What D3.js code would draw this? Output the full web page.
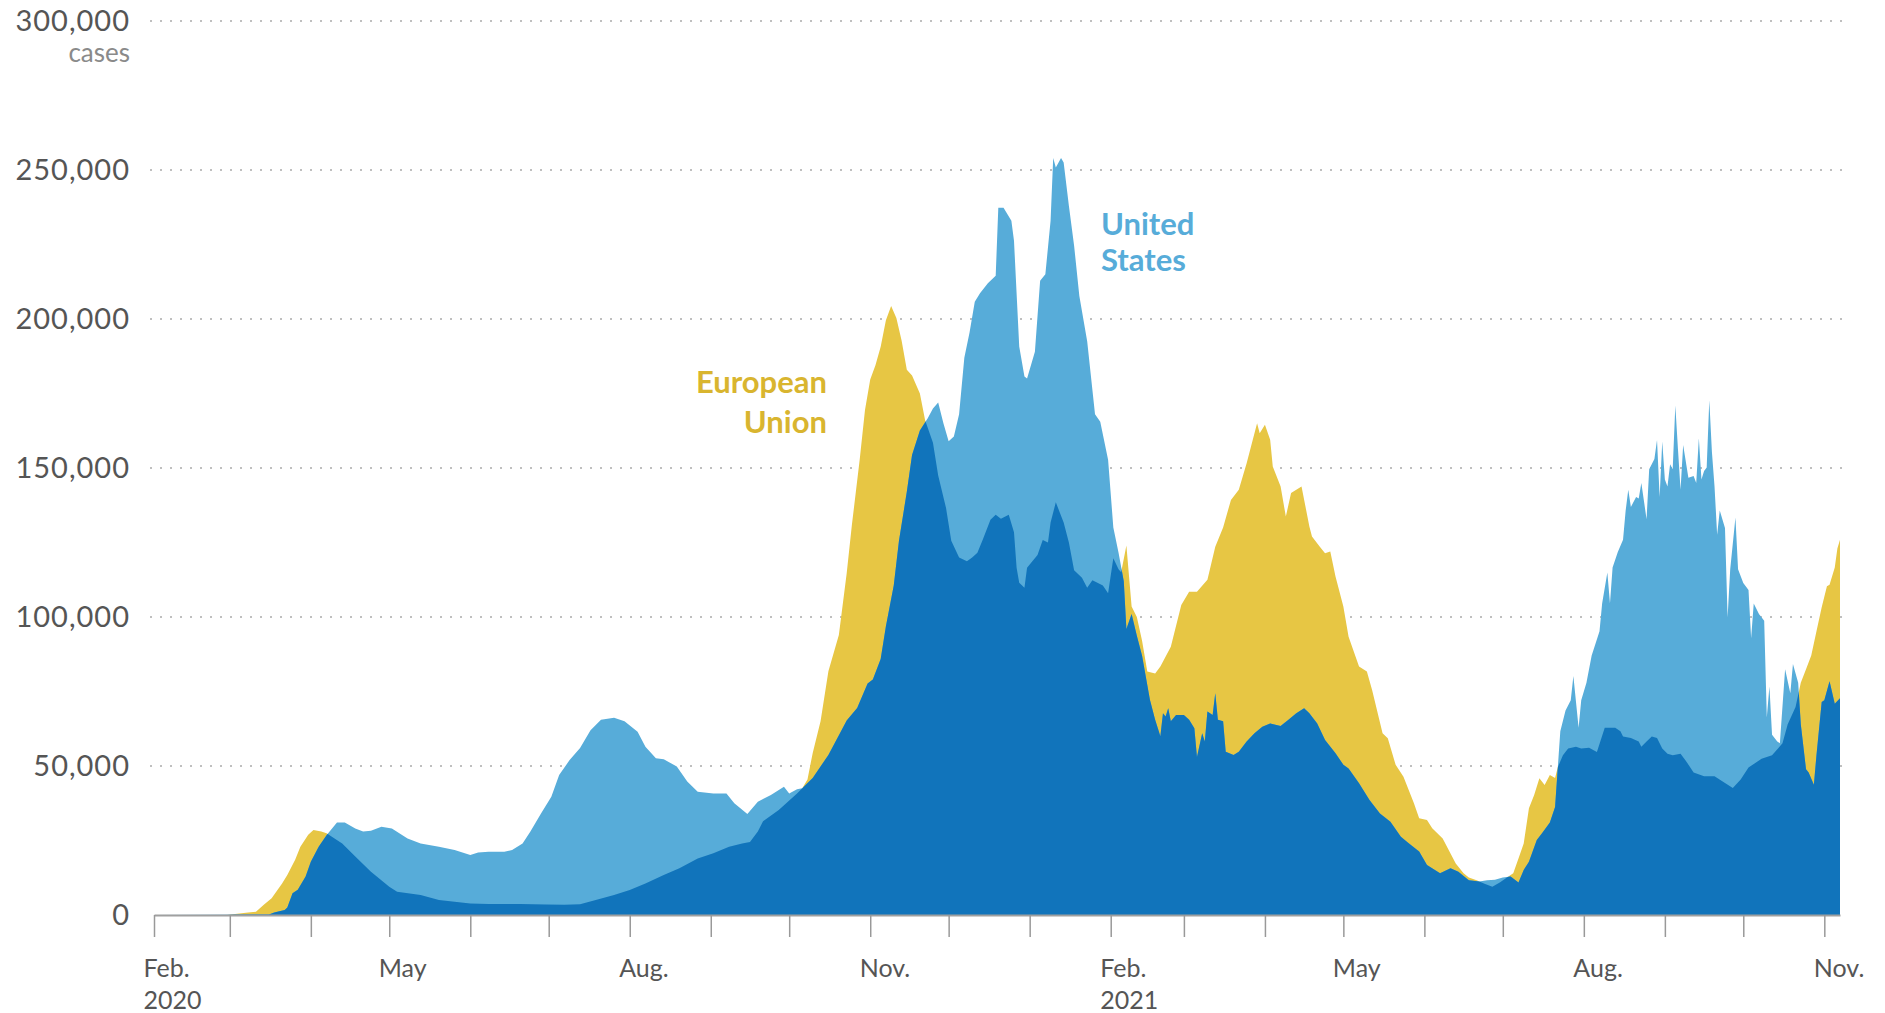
<!DOCTYPE html>
<html>
<head>
<meta charset="utf-8">
<script src="https://cdn.jsdelivr.net/npm/d3@7"></script>
<style>
  body { margin: 0; background: #fff; }
  svg text { font-family: Lato, "Open Sans", sans-serif; }
</style>
</head>
<body>
<div id="chart"></div>
<script>
// daily new cases (7-day average)
const euCases = [
  ["2020-02-01", 0], ["2020-02-29", 0], ["2020-03-03", 300], ["2020-03-08", 800], ["2020-03-11", 1100],
  ["2020-03-14", 3400], ["2020-03-17", 5600], ["2020-03-21", 10600], ["2020-03-23", 13400], ["2020-03-26", 18500],
  ["2020-03-28", 22900], ["2020-03-31", 26900], ["2020-04-02", 28500], ["2020-04-05", 28000], ["2020-04-07", 27400],
  ["2020-04-13", 24000], ["2020-04-18", 19600], ["2020-04-24", 14500], ["2020-05-01", 9500], ["2020-05-04", 7800],
  ["2020-05-13", 6700], ["2020-05-20", 5000], ["2020-06-01", 3900], ["2020-06-08", 3700], ["2020-06-20", 3700],
  ["2020-06-30", 3500], ["2020-07-07", 3400], ["2020-07-13", 3600], ["2020-07-19", 5000], ["2020-07-26", 6700],
  ["2020-08-01", 8400], ["2020-08-07", 10600], ["2020-08-14", 13400], ["2020-08-20", 15700], ["2020-08-27", 19000],
  ["2020-09-02", 20700], ["2020-09-08", 22900], ["2020-09-13", 24000], ["2020-09-16", 24500], ["2020-09-19", 28000],
  ["2020-09-21", 31500], ["2020-09-27", 35200], ["2020-10-04", 40800], ["2020-10-06", 42500], ["2020-10-08", 45500],
  ["2020-10-10", 54400], ["2020-10-13", 65000], ["2020-10-16", 81800], ["2020-10-20", 94000], ["2020-10-23", 114700],
  ["2020-10-25", 131000], ["2020-10-28", 153000], ["2020-10-30", 169500], ["2020-11-01", 179700], ["2020-11-03", 184500],
  ["2020-11-05", 190700], ["2020-11-07", 199600], ["2020-11-09", 204400], ["2020-11-11", 200300], ["2020-11-13", 192800],
  ["2020-11-15", 183000], ["2020-11-17", 181000], ["2020-11-20", 175000], ["2020-11-22", 166000], ["2020-11-25", 158500],
  ["2020-11-27", 147500], ["2020-11-30", 136600], ["2020-12-02", 125600], ["2020-12-05", 120000], ["2020-12-08", 118700],
  ["2020-12-10", 120000], ["2020-12-12", 121600], ["2020-12-14", 125800], ["2020-12-17", 132600], ["2020-12-19", 134300],
  ["2020-12-21", 133000], ["2020-12-24", 134300], ["2020-12-26", 128400], ["2020-12-27", 116500], ["2020-12-28", 111500],
  ["2020-12-30", 109800], ["2020-12-31", 116500], ["2021-01-04", 120800], ["2021-01-06", 125800], ["2021-01-08", 125000],
  ["2021-01-09", 131700], ["2021-01-11", 138500], ["2021-01-14", 131700], ["2021-01-16", 125000], ["2021-01-18", 115700],
  ["2021-01-21", 113200], ["2021-01-23", 109800], ["2021-01-25", 112300], ["2021-01-29", 110600], ["2021-01-31", 108000],
  ["2021-02-02", 119700], ["2021-02-04", 116000], ["2021-02-05", 115000], ["2021-02-07", 124000], ["2021-02-09", 103500],
  ["2021-02-11", 100000], ["2021-02-13", 92000], ["2021-02-15", 81700], ["2021-02-18", 81000], ["2021-02-20", 83400],
  ["2021-02-24", 90000], ["2021-02-28", 104000], ["2021-03-03", 108500], ["2021-03-06", 108500], ["2021-03-10", 112500],
  ["2021-03-13", 123600], ["2021-03-16", 130000], ["2021-03-19", 139300], ["2021-03-22", 142700], ["2021-03-25", 151600],
  ["2021-03-29", 165000], ["2021-03-30", 161700], ["2021-04-01", 164500], ["2021-04-03", 159500], ["2021-04-04", 150500],
  ["2021-04-07", 143800], ["2021-04-09", 133700], ["2021-04-11", 141600], ["2021-04-15", 143800], ["2021-04-18", 130400],
  ["2021-04-19", 127000], ["2021-04-22", 123600], ["2021-04-24", 121400], ["2021-04-26", 122000], ["2021-04-28", 113600],
  ["2021-05-01", 103500], ["2021-05-03", 93400], ["2021-05-07", 83400], ["2021-05-10", 81700], ["2021-05-12", 75500],
  ["2021-05-16", 61000], ["2021-05-18", 59300], ["2021-05-21", 50400], ["2021-05-24", 46400], ["2021-05-28", 37500],
  ["2021-05-30", 32500], ["2021-06-02", 31900], ["2021-06-04", 29100], ["2021-06-08", 25700], ["2021-06-13", 17300],
  ["2021-06-16", 14000], ["2021-06-18", 12600], ["2021-06-21", 11700], ["2021-06-24", 10500], ["2021-06-27", 9500],
  ["2021-06-30", 11000], ["2021-07-03", 12800], ["2021-07-05", 14000], ["2021-07-07", 19000], ["2021-07-09", 24000],
  ["2021-07-11", 35800], ["2021-07-13", 40300], ["2021-07-15", 45900], ["2021-07-17", 43600], ["2021-07-19", 47000],
  ["2021-07-21", 46000], ["2021-07-22", 49500], ["2021-07-24", 53600], ["2021-07-26", 55900], ["2021-07-29", 56500],
  ["2021-07-31", 55900], ["2021-08-03", 56100], ["2021-08-06", 54700], ["2021-08-09", 62800], ["2021-08-13", 62800],
  ["2021-08-15", 61700], ["2021-08-16", 59900], ["2021-08-19", 59400], ["2021-08-22", 58200], ["2021-08-23", 56500],
  ["2021-08-25", 58200], ["2021-08-27", 59900], ["2021-08-29", 59400], ["2021-08-31", 55900], ["2021-09-02", 54100],
  ["2021-09-04", 53600], ["2021-09-07", 54100], ["2021-09-09", 51800], ["2021-09-12", 47800], ["2021-09-16", 46600],
  ["2021-09-20", 46600], ["2021-09-24", 44300], ["2021-09-27", 42600], ["2021-09-30", 45500], ["2021-10-03", 49500],
  ["2021-10-08", 52400], ["2021-10-12", 53600], ["2021-10-16", 57600], ["2021-10-18", 64000], ["2021-10-21", 69800],
  ["2021-10-23", 77900], ["2021-10-25", 82500], ["2021-10-27", 87100], ["2021-10-29", 95200], ["2021-10-31", 103300],
  ["2021-11-02", 110300], ["2021-11-03", 110800], ["2021-11-05", 116600], ["2021-11-06", 123000], ["2021-11-07", 125900]
];

const usCases = [
  ["2020-02-01", 0], ["2020-03-16", 200], ["2020-03-18", 800], ["2020-03-22", 1700], ["2020-03-23", 2500],
  ["2020-03-25", 7300], ["2020-03-27", 8500], ["2020-03-30", 12900], ["2020-04-01", 17900], ["2020-04-04", 22900],
  ["2020-04-07", 26800], ["2020-04-11", 31000], ["2020-04-14", 31000], ["2020-04-18", 29000], ["2020-04-21", 28000],
  ["2020-04-24", 28300], ["2020-04-28", 29600], ["2020-05-02", 29000], ["2020-05-08", 25700], ["2020-05-13", 24000],
  ["2020-05-20", 22900], ["2020-05-26", 21800], ["2020-06-01", 20100], ["2020-06-04", 21000], ["2020-06-08", 21200],
  ["2020-06-14", 21200], ["2020-06-17", 21800], ["2020-06-21", 24000], ["2020-06-24", 28000], ["2020-06-28", 34000],
  ["2020-07-02", 39700], ["2020-07-05", 47000], ["2020-07-09", 52000], ["2020-07-13", 56000], ["2020-07-17", 62000],
  ["2020-07-21", 65500], ["2020-07-26", 66200], ["2020-07-30", 65000], ["2020-08-04", 61500], ["2020-08-07", 56500],
  ["2020-08-11", 52600], ["2020-08-14", 52300], ["2020-08-19", 49800], ["2020-08-23", 44800], ["2020-08-27", 41400],
  ["2020-09-02", 40800], ["2020-09-07", 40800], ["2020-09-10", 37500], ["2020-09-15", 33900], ["2020-09-19", 38000],
  ["2020-09-24", 40300], ["2020-09-29", 43000], ["2020-10-01", 40800], ["2020-10-04", 42200], ["2020-10-06", 42500],
  ["2020-10-10", 46000], ["2020-10-16", 53700], ["2020-10-23", 65300], ["2020-10-27", 69500], ["2020-10-31", 77700],
  ["2020-11-02", 79000], ["2020-11-05", 85900], ["2020-11-07", 96900], ["2020-11-10", 110600], ["2020-11-12", 125600],
  ["2020-11-15", 142000], ["2020-11-17", 154400], ["2020-11-20", 162600], ["2020-11-23", 166700], ["2020-11-25", 170000],
  ["2020-11-27", 172000], ["2020-11-29", 165000], ["2020-12-01", 159000], ["2020-12-03", 160600], ["2020-12-05", 168000],
  ["2020-12-07", 187000], ["2020-12-09", 195500], ["2020-12-11", 205800], ["2020-12-13", 208600], ["2020-12-16", 212000],
  ["2020-12-19", 214500], ["2020-12-20", 237300], ["2020-12-22", 237300], ["2020-12-25", 233000], ["2020-12-26", 226300],
  ["2020-12-28", 190800], ["2020-12-30", 180700], ["2020-12-31", 180000], ["2021-01-03", 189000], ["2021-01-05", 212800],
  ["2021-01-07", 215000], ["2021-01-09", 233000], ["2021-01-10", 254000], ["2021-01-11", 250800], ["2021-01-13", 254000],
  ["2021-01-14", 252500], ["2021-01-16", 238000], ["2021-01-18", 224600], ["2021-01-20", 207700], ["2021-01-23", 192500],
  ["2021-01-26", 168000], ["2021-01-28", 165500], ["2021-01-31", 152800], ["2021-02-02", 130000], ["2021-02-04", 121600],
  ["2021-02-06", 112000], ["2021-02-07", 96000], ["2021-02-09", 101000], ["2021-02-11", 93700], ["2021-02-13", 87000],
  ["2021-02-16", 72200], ["2021-02-18", 65500], ["2021-02-20", 60000], ["2021-02-21", 67700], ["2021-02-22", 66600],
  ["2021-02-23", 69400], ["2021-02-24", 65000], ["2021-02-26", 67100], ["2021-03-01", 67100], ["2021-03-03", 65500],
  ["2021-03-05", 62700], ["2021-03-06", 53000], ["2021-03-08", 61000], ["2021-03-09", 58200], ["2021-03-10", 68300],
  ["2021-03-12", 67100], ["2021-03-13", 74400], ["2021-03-14", 65500], ["2021-03-16", 65000], ["2021-03-17", 54800],
  ["2021-03-20", 53700], ["2021-03-22", 54800], ["2021-03-25", 58200], ["2021-03-28", 61000], ["2021-03-31", 63200],
  ["2021-04-03", 64300], ["2021-04-07", 63400], ["2021-04-10", 65500], ["2021-04-13", 67700], ["2021-04-16", 69400],
  ["2021-04-18", 67700], ["2021-04-21", 64300], ["2021-04-24", 58700], ["2021-04-28", 54300], ["2021-05-01", 50400],
  ["2021-05-03", 49200], ["2021-05-07", 44200], ["2021-05-11", 38600], ["2021-05-15", 34100], ["2021-05-19", 31300],
  ["2021-05-23", 26300], ["2021-05-26", 24100], ["2021-05-30", 21300], ["2021-06-02", 16800], ["2021-06-07", 14000],
  ["2021-06-11", 15700], ["2021-06-14", 14500], ["2021-06-18", 11700], ["2021-06-22", 11200], ["2021-06-25", 11700],
  ["2021-06-28", 11800], ["2021-07-01", 12600], ["2021-07-04", 12900], ["2021-07-07", 10900], ["2021-07-09", 15100],
  ["2021-07-11", 17900], ["2021-07-14", 25200], ["2021-07-16", 27400], ["2021-07-19", 31000], ["2021-07-21", 36200],
  ["2021-07-23", 61700], ["2021-07-25", 68600], ["2021-07-27", 72100], ["2021-07-28", 80200], ["2021-07-30", 62800],
  ["2021-07-31", 72100], ["2021-08-02", 77900], ["2021-08-04", 87100], ["2021-08-07", 95200], ["2021-08-08", 104500],
  ["2021-08-10", 114900], ["2021-08-11", 104500], ["2021-08-12", 116600], ["2021-08-14", 121800], ["2021-08-16", 125900],
  ["2021-08-17", 135700], ["2021-08-18", 142700], ["2021-08-19", 136900], ["2021-08-21", 140300], ["2021-08-22", 139800],
  ["2021-08-23", 145000], ["2021-08-25", 132800], ["2021-08-26", 149600], ["2021-08-28", 153000], ["2021-08-29", 159400],
  ["2021-08-30", 140300], ["2021-08-31", 158900], ["2021-09-01", 146100], ["2021-09-02", 143800], ["2021-09-03", 151300],
  ["2021-09-04", 149600], ["2021-09-05", 171000], ["2021-09-06", 156500], ["2021-09-07", 142700], ["2021-09-08", 157700],
  ["2021-09-10", 146700], ["2021-09-12", 147300], ["2021-09-13", 145000], ["2021-09-14", 160000], ["2021-09-15", 146100],
  ["2021-09-16", 149000], ["2021-09-17", 150200], ["2021-09-18", 172700], ["2021-09-19", 155400], ["2021-09-20", 143800],
  ["2021-09-21", 127600], ["2021-09-22", 135700], ["2021-09-24", 129900], ["2021-09-25", 99800], ["2021-09-26", 116000],
  ["2021-09-28", 133400], ["2021-09-29", 116000], ["2021-10-01", 111400], ["2021-10-03", 109100], ["2021-10-04", 92900],
  ["2021-10-05", 104500], ["2021-10-07", 101000], ["2021-10-09", 98700], ["2021-10-10", 66300], ["2021-10-11", 76700],
  ["2021-10-12", 60500], ["2021-10-14", 58200], ["2021-10-15", 57600], ["2021-10-17", 82500], ["2021-10-19", 74400],
  ["2021-10-20", 84200], ["2021-10-22", 77900], ["2021-10-23", 64000], ["2021-10-25", 48900], ["2021-10-26", 47800],
  ["2021-10-28", 43700], ["2021-10-29", 53600], ["2021-10-31", 71500], ["2021-11-01", 72100], ["2021-11-03", 78400],
  ["2021-11-05", 70900], ["2021-11-07", 72700]
];

const yTickValues = [0, 50000, 100000, 150000, 200000, 250000, 300000];
const monthLabels = { 1: "Feb.", 4: "May", 7: "Aug.", 10: "Nov." };
const seriesLabels = [
  { lines: ["European", "Union"], color: "#D9B52F" },
  { lines: ["United", "States"], color: "#57ACD9" }
];

const W = 1885, H = 1013;
const parse = d3.timeParse("%Y-%m-%d");
const eu = euCases.map(d => ({ date: parse(d[0]), value: d[1] }));
const us = usCases.map(d => ({ date: parse(d[0]), value: d[1] }));

const svg = d3.select("#chart")
  .append("svg")
  .attr("width", W)
  .attr("height", H);

const x = d3.scaleTime()
  .domain([parse("2020-02-01"), parse("2021-11-07")])
  .range([154, 1840]);

const y = d3.scaleLinear()
  .domain([0, 300000])
  .range([915, 21]);

// dotted grid
svg.append("g")
  .selectAll("line")
  .data(yTickValues.filter(v => v > 0))
  .enter()
  .append("line")
  .attr("x1", 150)
  .attr("x2", 1842)
  .attr("y1", d => y(d))
  .attr("y2", d => y(d))
  .attr("stroke", "#aaa")
  .attr("stroke-width", 1.5)
  .attr("stroke-dasharray", "2,8");

const area = d3.area()
  .x(d => x(d.date))
  .y0(y(0))
  .y1(d => y(d.value));

svg.append("clipPath")
  .attr("id", "usClip")
  .append("path")
  .attr("d", area(us));

svg.append("path").attr("d", area(eu)).attr("fill", "#E7C644");
svg.append("path").attr("d", area(us)).attr("fill", "#57ACD9");
// overlap of both = dark blue
svg.append("path")
  .attr("d", area(eu))
  .attr("fill", "#1174BB")
  .attr("clip-path", "url(#usClip)");

// x axis
const xAxis = svg.append("g")
  .attr("transform", `translate(0, ${y(0)})`)
  .call(d3.axisBottom(x)
    .ticks(d3.timeMonth.every(1))
    .tickSize(22)
    .tickSizeOuter(0)
    .tickFormat(d => monthLabels[d.getMonth()] || ""));

xAxis.select(".domain").attr("stroke", "#a0a0a0").attr("stroke-width", 2);
xAxis.selectAll(".tick line").attr("stroke", "#999").attr("stroke-width", 1.5);
xAxis.selectAll(".tick text")
  .attr("y", 62)
  .attr("dy", null)
  .attr("dx", -11)
  .style("text-anchor", "start")
  .style("font-size", "25px")
  .attr("fill", "#555")
  .each(function (d) {
    if (d.getMonth() === 1) {
      d3.select(this).append("tspan")
        .attr("x", 0)
        .attr("dx", -11)
        .attr("dy", 32)
        .text(d.getFullYear());
    }
  });

// y axis labels
const yAxis = svg.append("g")
  .attr("transform", "translate(130, 0)")
  .call(d3.axisLeft(y)
    .tickValues(yTickValues)
    .tickSize(0)
    .tickPadding(0)
    .tickFormat(d3.format(",")));

yAxis.select(".domain").remove();
yAxis.selectAll(".tick text")
  .style("font-size", "29px")
  .style("letter-spacing", "1px")
  .attr("fill", "#555");

svg.append("text")
  .attr("x", 130)
  .attr("y", 62)
  .style("text-anchor", "end")
  .style("font-size", "26px")
  .attr("fill", "#8a8a8a")
  .text("cases");

// series labels
const labelPos = [
  { x: 827, y: 393, anchor: "end", gap: 40 },
  { x: 1101, y: 235, anchor: "start", gap: 36 }
];

seriesLabels.forEach((s, i) => {
  const t = svg.append("text")
    .attr("x", labelPos[i].x)
    .attr("y", labelPos[i].y)
    .style("text-anchor", labelPos[i].anchor)
    .style("font-size", "31px")
    .style("font-weight", "700")
    .attr("fill", s.color);
  s.lines.forEach((line, j) => {
    t.append("tspan")
      .attr("x", labelPos[i].x)
      .attr("dy", j === 0 ? 0 : labelPos[i].gap)
      .text(line);
  });
});
</script>
</body>
</html>
